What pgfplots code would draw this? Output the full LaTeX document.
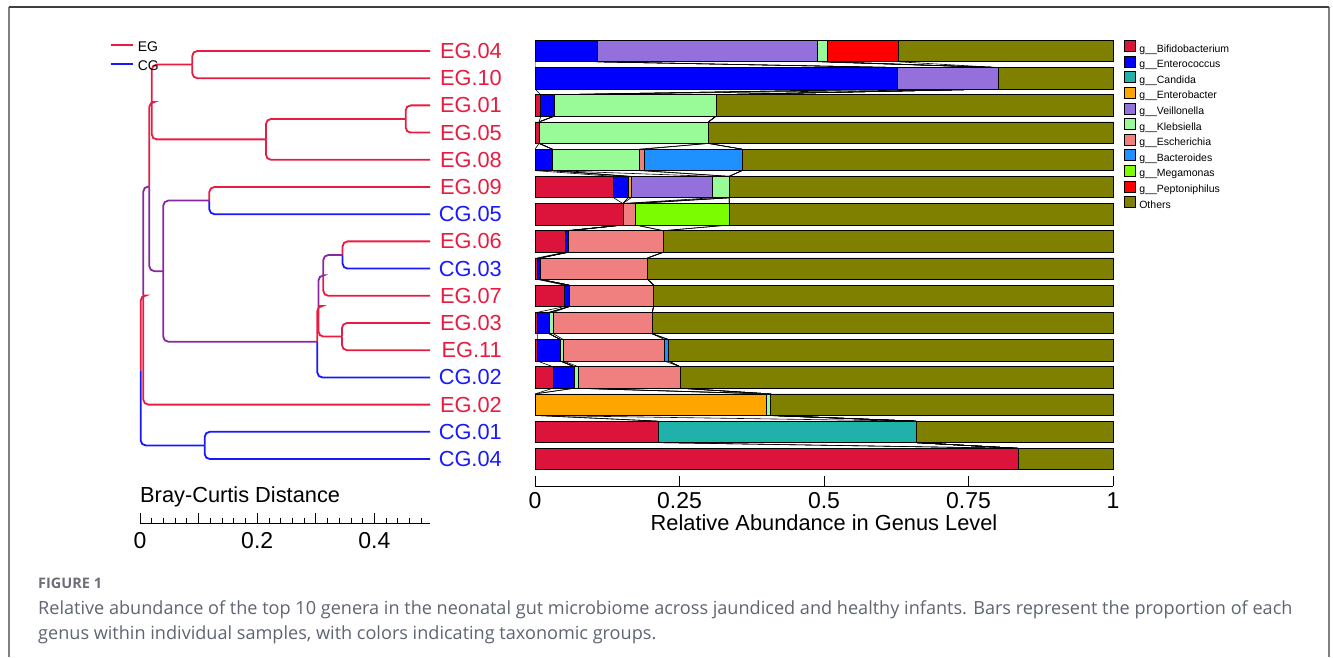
\documentclass[border=0pt]{standalone}
\usepackage{pgfplots}
\pgfplotsset{compat=1.18}
\usepackage{pgfplotstable}
\usepackage{fontspec}
\setmainfont{Liberation Sans}
\newfontfamily\capfont{Open Sans}
\definecolor{egred}{RGB}{232,28,64}
\definecolor{cgblue}{RGB}{25,25,255}
\definecolor{mixpur}{RGB}{135,40,160}
\definecolor{cBif}{HTML}{DC143C}
\definecolor{cEnt}{HTML}{0000FF}
\definecolor{cCan}{HTML}{20B2AA}
\definecolor{cEnb}{HTML}{FFA500}
\definecolor{cVei}{HTML}{9370DB}
\definecolor{cKle}{HTML}{98FB98}
\definecolor{cEsc}{HTML}{F08080}
\definecolor{cBac}{HTML}{1E90FF}
\definecolor{cMeg}{HTML}{7CFC00}
\definecolor{cPep}{HTML}{FF0000}
\definecolor{cOth}{HTML}{808000}
\definecolor{capgray}{RGB}{95,100,115}
\definecolor{figgray}{RGB}{110,110,120}

% cumulative boundaries after each genus (b1 = Bifidobacterium ... b10 = Peptoniphilus); Others = 1 - b10
\pgfplotstableread{
y b1 b2 b3 b4 b5 b6 b7 b8 b9 b10
15 0 0.107 0.107 0.107 0.489 0.505 0.505 0.505 0.505 0.629
14 0 0.627 0.627 0.627 0.801 0.801 0.801 0.801 0.801 0.801
13 0.010 0.033 0.033 0.033 0.033 0.313 0.313 0.313 0.313 0.313
12 0.007 0.007 0.007 0.007 0.007 0.300 0.300 0.300 0.300 0.300
11 0 0.030 0.030 0.030 0.030 0.180 0.190 0.358 0.358 0.358
10 0.136 0.161 0.161 0.166 0.306 0.336 0.336 0.336 0.336 0.336
9 0.152 0.152 0.152 0.152 0.152 0.152 0.174 0.174 0.336 0.336
8 0.052 0.058 0.058 0.058 0.058 0.058 0.222 0.222 0.222 0.222
7 0.004 0.009 0.009 0.009 0.009 0.009 0.195 0.195 0.195 0.195
6 0.051 0.059 0.059 0.059 0.059 0.059 0.205 0.205 0.205 0.205
5 0.004 0.025 0.025 0.025 0.025 0.032 0.203 0.203 0.203 0.203
4 0.004 0.044 0.044 0.044 0.044 0.049 0.224 0.231 0.231 0.231
3 0.031 0.068 0.068 0.068 0.068 0.075 0.251 0.251 0.251 0.251
2 0 0 0 0.400 0.400 0.408 0.408 0.408 0.408 0.408
1 0.213 0.213 0.659 0.659 0.659 0.659 0.659 0.659 0.659 0.659
0 0.836 0.836 0.836 0.836 0.836 0.836 0.836 0.836 0.836 0.836
}\abund

\newcommand\buildconn[1]{%
  \gdef\connlist{}%
  \pgfplotsforeachungrouped \rr in {0,...,15}{%
    \pgfplotstablegetelem{\rr}{#1}\of\abund \let\bx\pgfplotsretval
    \pgfplotstablegetelem{\rr}{y}\of\abund \let\by\pgfplotsretval
    \pgfmathsetmacro\ytop{\by+0.395}%
    \pgfmathsetmacro\ybot{\by-0.395}%
    \xdef\connlist{\connlist (\bx,\ytop) (\bx,\ybot)}%
  }%
  \expandafter\global\expandafter\let\csname conn#1\endcsname\connlist
}
\buildconn{b1}\buildconn{b2}\buildconn{b3}\buildconn{b4}\buildconn{b5}
\buildconn{b6}\buildconn{b7}\buildconn{b8}\buildconn{b9}\buildconn{b10}

\pgfplotsset{
  gen/.style={fill=#1, draw=black, line width=0.7pt,
    legend image code/.code={\draw[fill=#1, draw=black, line width=0.6pt] (0pt,-2pt) rectangle (11pt,9pt);}},
  br/.style={line width=1.8pt, rounded corners=5pt, forget plot, #1},
}

\begin{document}
\begin{tikzpicture}
\path[use as bounding box] (0,0) rectangle (1333pt,657pt);
% frame
\draw[gray, line width=1.3pt] (9pt,0pt) -- (9pt,650pt);
\draw[gray, line width=1.3pt] (1329pt,0pt) -- (1329pt,650pt);
\draw[black!75, line width=1.5pt] (9pt,650pt) -- (1329pt,650pt);

% connectors between bars
\begin{axis}[at={(535pt,171pt)}, anchor=south west, scale only axis,
  width=578pt, height=451.25pt, xmin=0, xmax=1, ymin=-0.99, ymax=15.6, hide axis]
\pgfplotsinvokeforeach{b1,b2,b3,b4,b5,b6,b7,b8,b9,b10}{
  \edef\tmp{\noexpand\addplot[black, line width=0.6pt] coordinates {\csname conn#1\endcsname};}\tmp
}
\end{axis}

% stacked bars
\begin{axis}[at={(535pt,171pt)}, anchor=south west, scale only axis,
  width=578pt, height=451.25pt, xmin=0, xmax=1, ymin=-0.99, ymax=15.6,
  xbar stacked, bar width=0.79, clip=false,
  axis x line*=bottom, axis y line*=left, y axis line style={draw=none},
  x axis line style={-, line width=0.8pt},
  xtick={0,0.25,0.5,0.75,1}, xticklabels={0,0.25,0.5,0.75,1},
  ytick={0,...,15},
  yticklabels={{\color{cgblue}CG.04},{\color{cgblue}CG.01},{\color{egred}EG.02},{\color{cgblue}CG.02},
    {\color{egred}EG.11},{\color{egred}EG.03},{\color{egred}EG.07},{\color{cgblue}CG.03},
    {\color{egred}EG.06},{\color{cgblue}CG.05},{\color{egred}EG.09},{\color{egred}EG.08},
    {\color{egred}EG.05},{\color{egred}EG.01},{\color{egred}EG.10},{\color{egred}EG.04}},
  tick align=inside, ytick style={draw=none}, xtick style={line width=0.8pt, black},
  major tick length=10pt,
  yticklabel style={inner sep=0pt, xshift=-33pt, font=\fontsize{21.8}{24}\selectfont},
  xticklabel style={font=\fontsize{23}{26}\selectfont, yshift=-3pt},
  xlabel={Relative Abundance in Genus Level},
  xlabel style={font=\fontsize{21.8}{24}\selectfont, at={(axis description cs:0.5,-0.082)}, anchor=center},
  legend style={at={(1.013,0.993)}, anchor=north west, draw=none, fill=none,
    font=\fontsize{10.5}{12}\selectfont, row sep=0.4pt, column sep=3pt,
    nodes={inner sep=1pt, text height=7.5pt, text depth=2.3pt}},
  legend cell align=left]
\addplot[gen=cBif] table[y=y, x=b1] {\abund};
\addlegendentry{g\_\_Bifidobacterium}
\addplot[gen=cEnt] table[y=y, x expr=\thisrow{b2}-\thisrow{b1}] {\abund};
\addlegendentry{g\_\_Enterococcus}
\addplot[gen=cCan] table[y=y, x expr=\thisrow{b3}-\thisrow{b2}] {\abund};
\addlegendentry{g\_\_Candida}
\addplot[gen=cEnb] table[y=y, x expr=\thisrow{b4}-\thisrow{b3}] {\abund};
\addlegendentry{g\_\_Enterobacter}
\addplot[gen=cVei] table[y=y, x expr=\thisrow{b5}-\thisrow{b4}] {\abund};
\addlegendentry{g\_\_Veillonella}
\addplot[gen=cKle] table[y=y, x expr=\thisrow{b6}-\thisrow{b5}] {\abund};
\addlegendentry{g\_\_Klebsiella}
\addplot[gen=cEsc] table[y=y, x expr=\thisrow{b7}-\thisrow{b6}] {\abund};
\addlegendentry{g\_\_Escherichia}
\addplot[gen=cBac] table[y=y, x expr=\thisrow{b8}-\thisrow{b7}] {\abund};
\addlegendentry{g\_\_Bacteroides}
\addplot[gen=cMeg] table[y=y, x expr=\thisrow{b9}-\thisrow{b8}] {\abund};
\addlegendentry{g\_\_Megamonas}
\addplot[gen=cPep] table[y=y, x expr=\thisrow{b10}-\thisrow{b9}] {\abund};
\addlegendentry{g\_\_Peptoniphilus}
\addplot[gen=cOth] table[y=y, x expr=1-\thisrow{b10}] {\abund};
\addlegendentry{Others}
\end{axis}

% dendrogram
\begin{axis}[at={(140pt,134pt)}, anchor=south west, scale only axis,
  width=290.07pt, height=488.32pt, xmin=0, xmax=0.495, ymin=-2.353, ymax=15.6, clip=false,
  axis x line*=bottom, axis y line=none, x axis line style={-, line width=0.8pt},
  xtick={0,0.1,0.2,0.3,0.4}, xticklabels={0,,0.2,,0.4},
  minor xtick={0.02,0.04,0.06,0.08,0.12,0.14,0.16,0.18,0.22,0.24,0.26,0.28,0.32,0.34,0.36,0.38,0.42,0.44,0.46,0.48},
  tick align=inside, major tick length=10pt, minor tick length=5pt,
  xtick style={line width=0.8pt, black}, minor tick style={line width=0.8pt, black},
  xticklabel style={font=\fontsize{23}{26}\selectfont, yshift=-6pt},
  legend style={at={(-0.1138,0.9932)}, anchor=north west, draw=none, fill=none,
    font=\fontsize{14}{16}\selectfont, row sep=7pt, column sep=3pt,
    nodes={inner sep=1pt, text height=10pt, text depth=0pt}},
  legend cell align=left,
  legend image code/.code={\draw[#1] (0pt,1pt) -- (22pt,1pt);}]
\addlegendimage{draw=egred, line width=1.6pt}\addlegendentry{EG}
\addlegendimage{draw=cgblue, line width=1.6pt}\addlegendentry{CG}
% A
\addplot[br=egred] coordinates {(0.495,15) (0.0892,15) (0.0892,14.5)};
\addplot[br=egred] coordinates {(0.495,14) (0.0892,14) (0.0892,14.5)};
% B
\addplot[br=egred] coordinates {(0.495,13) (0.4534,13) (0.4534,12.5)};
\addplot[br=egred] coordinates {(0.495,12) (0.4534,12) (0.4534,12.5)};
% C
\addplot[br=egred] coordinates {(0.4534,12.5) (0.2150,12.5) (0.2150,11.75)};
\addplot[br=egred] coordinates {(0.495,11) (0.2150,11) (0.2150,11.75)};
% D
\addplot[br=egred] coordinates {(0.0892,14.5) (0.0200,14.5) (0.0200,13.125)};
\addplot[br=egred] coordinates {(0.2150,11.75) (0.0200,11.75) (0.0200,13.125)};
% E
\addplot[br=egred] coordinates {(0.495,10) (0.1183,10) (0.1183,9.5)};
\addplot[br=cgblue] coordinates {(0.495,9) (0.1183,9) (0.1183,9.5)};
% F
\addplot[br=egred] coordinates {(0.495,8) (0.3457,8) (0.3457,7.5)};
\addplot[br=cgblue] coordinates {(0.495,7) (0.3457,7) (0.3457,7.5)};
% G
\addplot[br=mixpur] coordinates {(0.3457,7.5) (0.3128,7.5) (0.3128,6.75)};
\addplot[br=egred] coordinates {(0.495,6) (0.3128,6) (0.3128,6.75)};
% H
\addplot[br=egred] coordinates {(0.495,5) (0.3447,5) (0.3447,4.5)};
\addplot[br=egred] coordinates {(0.495,4) (0.3447,4) (0.3447,4.5)};
% I
\addplot[br=mixpur] coordinates {(0.3128,6.75) (0.3046,6.75) (0.3046,5.625)};
\addplot[br=egred] coordinates {(0.3447,4.5) (0.3046,4.5) (0.3046,5.625)};
% J
\addplot[br=egred] coordinates {(0.3046,5.625) (0.3026,5.625) (0.3026,4.3125)};
\addplot[br=cgblue] coordinates {(0.495,3) (0.3026,3) (0.3026,4.3125)};
% K
\addplot[br=mixpur] coordinates {(0.1183,9.5) (0.0397,9.5) (0.0397,6.906)};
\addplot[br=mixpur] coordinates {(0.3026,4.3125) (0.0397,4.3125) (0.0397,6.906)};
% L
\addplot[br=egred] coordinates {(0.0200,13.125) (0.0159,13.125) (0.0159,10.016)};
\addplot[br=mixpur] coordinates {(0.0397,6.906) (0.0159,6.906) (0.0159,10.016)};
% M
\addplot[br=mixpur] coordinates {(0.0159,10.016) (0.0056,10.016) (0.0056,6.008)};
\addplot[br=egred] coordinates {(0.495,2) (0.0056,2) (0.0056,6.008)};
% N
\addplot[br=cgblue] coordinates {(0.495,1) (0.1104,1) (0.1104,0.5)};
\addplot[br=cgblue] coordinates {(0.495,0) (0.1104,0) (0.1104,0.5)};
% O (root)
\addplot[br=egred] coordinates {(0.0056,6.008) (0.0012,6.008) (0.0012,3.254)};
\addplot[br=cgblue] coordinates {(0.1104,0.5) (0.0012,0.5) (0.0012,3.254)};
\node[anchor=west, inner sep=0pt, font=\fontsize{21.8}{24}\selectfont] at (axis cs:0,-1.39) {Bray-Curtis Distance};
\end{axis}

% caption
\node[anchor=base west, inner sep=0pt, text=figgray, font=\capfont\bfseries\fontsize{14.5}{17}\selectfont] at (38pt,68.5pt) {FIGURE 1};
\node[anchor=base west, inner sep=0pt, text=capgray, font=\capfont\fontsize{18.1}{20}\selectfont] at (38pt,43pt) {Relative abundance of the top 10 genera in the neonatal gut microbiome across jaundiced and healthy infants. Bars represent the proportion of each};
\node[anchor=base west, inner sep=0pt, text=capgray, font=\capfont\fontsize{18.1}{20}\selectfont] at (38pt,18pt) {genus within individual samples, with colors indicating taxonomic groups.};
\end{tikzpicture}
\end{document}
